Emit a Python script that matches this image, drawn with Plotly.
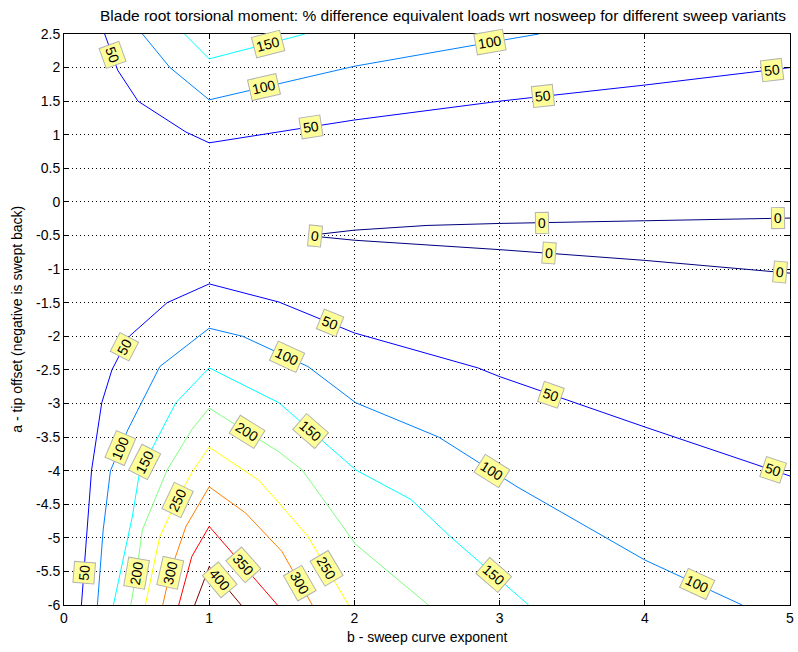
import math
import plotly.graph_objects as go

# ---- contour isolines: b = sweep curve exponent, a = tip offset ----
b_0_upper = [1.72, 2.0, 2.5, 3.0, 4.0, 5.0]
a_0_upper = [-0.49, -0.42, -0.35, -0.32, -0.28, -0.24]
b_0_lower = [1.72, 2.0, 2.5, 3.0, 4.0, 5.0]
a_0_lower = [-0.51, -0.57, -0.64, -0.71, -0.87, -1.06]

b_50_top = [0.28, 0.37, 0.51, 0.84, 1.0, 2.0, 3.0, 4.0, 5.0]
a_50_top = [2.5, 1.96, 1.5, 1.04, 0.88, 1.22, 1.5, 1.74, 2.0]
b_50_bot = [0.12, 0.16, 0.19, 0.26, 0.33, 0.45, 0.71, 1.0, 1.48, 2.0, 2.85, 3.0, 4.0, 5.0]
a_50_bot = [-6.0, -4.88, -3.99, -2.99, -2.5, -2.0, -1.5, -1.22, -1.49, -1.95, -2.47, -2.6, -3.35, -4.08]

b_100_top = [0.54, 0.73, 1.0, 2.0, 3.0, 3.27]
a_100_top = [2.5, 2.0, 1.52, 2.02, 2.4, 2.5]
b_100_bot = [0.23, 0.27, 0.32, 0.44, 0.66, 1.0, 1.23, 1.68, 2.01, 2.58, 3.12, 4.0, 4.67]
a_100_bot = [-6.0, -4.88, -4.0, -3.39, -2.45, -1.88, -2.0, -2.45, -2.99, -3.5, -4.24, -5.33, -6.0]

b_150_top = [0.83, 1.0, 1.66]
a_150_top = [2.5, 2.13, 2.5]
b_150_bot = [0.34, 0.40, 0.47, 0.52, 0.61, 0.77, 1.0, 1.48, 2.01, 2.39, 2.66, 3.2]
a_150_bot = [-6.0, -5.37, -4.69, -4.03, -3.65, -2.99, -2.47, -2.99, -3.99, -4.43, -4.98, -6.0]

b_200 = [0.46, 0.5, 0.54, 0.71, 0.88, 1.0, 1.48, 1.64, 2.01, 2.51]
a_200 = [-6.0, -5.5, -4.88, -3.99, -3.39, -3.07, -3.72, -3.99, -5.1, -6.0]

b_250 = [0.56, 0.66, 0.78, 0.88, 1.0, 1.34, 1.48, 1.68, 1.96]
a_250 = [-6.0, -4.98, -4.43, -4.03, -3.65, -4.14, -4.48, -4.98, -6.0]

b_300 = [0.68, 0.73, 0.84, 1.0, 1.25, 1.5, 1.71]
a_300 = [-6.0, -5.52, -4.83, -4.24, -4.63, -5.2, -6.0]

b_350 = [0.79, 0.88, 1.0, 1.24, 1.47]
a_350 = [-6.0, -5.28, -4.83, -5.42, -6.0]

b_400 = [0.9, 1.0, 1.22]
a_400 = [-6.0, -5.43, -6.0]

isolines = [
    (0, b_0_upper, a_0_upper), (0, b_0_lower, a_0_lower),
    (50, b_50_top, a_50_top), (50, b_50_bot, a_50_bot),
    (100, b_100_top, a_100_top), (100, b_100_bot, a_100_bot),
    (150, b_150_top, a_150_top), (150, b_150_bot, a_150_bot),
    (200, b_200, a_200), (250, b_250, a_250), (300, b_300, a_300),
    (350, b_350, a_350), (400, b_400, a_400),
]

# inline label spots (level, approximate b, approximate a), snapped onto the isoline
label_spots = [
    (50, 0.33, 2.18), (150, 1.41, 2.33), (100, 1.38, 1.7), (50, 1.70, 1.1),
    (100, 2.94, 2.33), (50, 3.30, 1.52), (50, 4.88, 1.92),
    (0, 1.73, -0.5), (0, 3.29, -0.32), (0, 3.34, -0.73), (0, 4.92, -0.27), (0, 4.93, -1.04),
    (50, 0.42, -2.16), (50, 1.83, -1.83), (50, 3.36, -2.85), (50, 4.88, -4.03), (50, 0.14, -5.52),
    (100, 1.52, -2.4), (100, 0.42, -3.69), (100, 2.94, -4.03), (100, 4.36, -5.7),
    (150, 0.57, -3.89), (150, 1.72, -3.35), (150, 2.94, -5.6),
    (200, 1.27, -3.4), (200, 0.5, -5.52),
    (250, 0.78, -4.43), (250, 1.82, -5.43),
    (300, 0.73, -5.52), (300, 1.6, -5.7),
    (350, 1.24, -5.4), (400, 1.07, -5.63),
]

x_ticks = [0, 1, 2, 3, 4, 5]
y_ticks = [2.5, 2, 1.5, 1, 0.5, 0, -0.5, -1, -1.5, -2, -2.5, -3, -3.5, -4, -4.5, -5, -5.5, -6]

# ---- geometry ----
W, H = 798, 652
ML, MR, MT, MB = 64, 4, 34, 47
XR = (0, 5)
YR = (-6, 2.5)
PW, PH = W - ML - MR, H - MT - MB


def to_px(b, a):
    return (ML + (b - XR[0]) / (XR[1] - XR[0]) * PW,
            MT + (YR[1] - a) / (YR[1] - YR[0]) * PH)


def to_data(px, py):
    return (XR[0] + (px - ML) / PW * (XR[1] - XR[0]),
            YR[1] - (py - MT) / PH * (YR[1] - YR[0]))


def jet(level, lo=0.0, hi=400.0):
    f = (level - lo) / (hi - lo)
    def ch(x):
        return max(0.0, min(1.0, 1.5 - abs(4 * f - x)))
    r, g, b = ch(3), ch(2), ch(1)
    return f"rgb({int(r*255)},{int(g*255)},{int(b*255)})"


fig = go.Figure()
for level, bs, as_ in isolines:
    fig.add_trace(go.Scatter(x=bs, y=as_, mode="lines",
                             line=dict(color=jet(level), width=1),
                             hoverinfo="skip", showlegend=False))


def snap(level, tb, ta):
    tx, ty = to_px(tb, ta)
    best = None
    for lv, bs, as_ in isolines:
        if lv != level:
            continue
        pts = [to_px(b, a) for b, a in zip(bs, as_)]
        for (x0, y0), (x1, y1) in zip(pts[:-1], pts[1:]):
            dx, dy = x1 - x0, y1 - y0
            L2 = dx * dx + dy * dy
            t = 0.0 if L2 == 0 else max(0.0, min(1.0, ((tx - x0) * dx + (ty - y0) * dy) / L2))
            px, py = x0 + t * dx, y0 + t * dy
            d = (px - tx) ** 2 + (py - ty) ** 2
            if best is None or d < best[0]:
                ang = math.degrees(math.atan2(dy, dx))
                if ang > 90:
                    ang -= 180
                elif ang <= -90:
                    ang += 180
                best = (d, px, py, ang)
    _, px, py, ang = best
    b, a = to_data(px, py)
    return b, a, ang


FONT = "Liberation Sans, Arial, Helvetica, sans-serif"
annotations = []
for level, tb, ta in label_spots:
    b, a, ang = snap(level, tb, ta)
    annotations.append(dict(
        x=b, y=a, xref="x", yref="y", text=str(level), showarrow=False,
        textangle=ang, font=dict(family=FONT, size=14, color="black"),
        bgcolor="#ffff99", bordercolor="#b3b3b3", borderwidth=1, borderpad=2,
    ))

# axis titles and chart title
annotations.append(dict(text="b - sweep curve exponent", xref="paper", yref="paper",
                        x=0.5, y=((H - MB) - 637) / PH, showarrow=False,
                        xanchor="center", yanchor="middle",
                        font=dict(family=FONT, size=14, color="black")))
annotations.append(dict(text="a - tip offset (negative is swept back)", xref="paper", yref="paper",
                        x=(16 - ML) / PW, y=0.5, showarrow=False, textangle=-90,
                        xanchor="center", yanchor="middle",
                        font=dict(family=FONT, size=14, color="black")))
annotations.append(dict(text="Blade root torsional moment: % difference equivalent loads wrt nosweep for different sweep variants",
                        xref="paper", yref="paper", x=(445 - ML) / PW, y=1 + (MT - 15) / PH,
                        showarrow=False, xanchor="center", yanchor="middle",
                        font=dict(family=FONT, size=15.5, color="black")))

axis_common = dict(
    showline=True, linecolor="black", linewidth=1, mirror="ticks",
    ticks="inside", ticklen=5, tickcolor="black", tickwidth=1,
    showgrid=True, gridcolor="black", gridwidth=1, griddash="1px,3px",
    zeroline=False, ticklabeloverflow="allow",
    tickfont=dict(family=FONT, size=14, color="black"),
)

fig.update_layout(
    width=W, height=H, margin=dict(l=ML, r=MR, t=MT, b=MB, pad=0),
    paper_bgcolor="white", plot_bgcolor="white",
    xaxis=dict(range=list(XR), tickvals=x_ticks, ticktext=[str(v) for v in x_ticks], **axis_common),
    yaxis=dict(range=list(YR), tickvals=y_ticks,
               ticktext=[("%g" % v) for v in y_ticks], **axis_common),
    annotations=annotations,
)

fig.write_html("out.html")
